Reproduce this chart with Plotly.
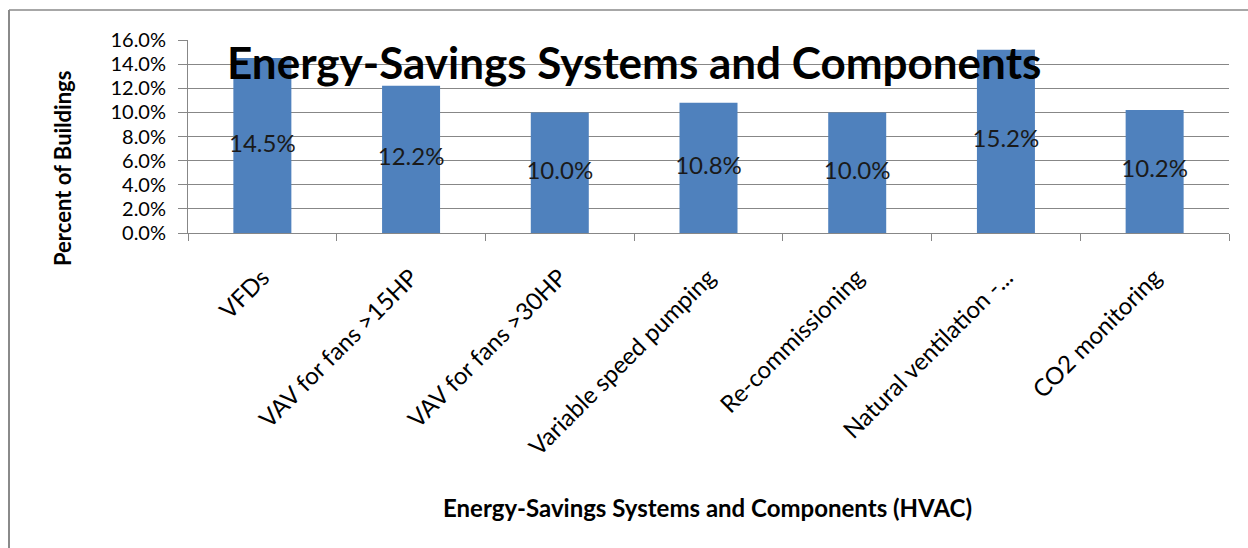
import plotly.graph_objects as go

categories = ["VFDs", "VAV for fans >15HP", "VAV for fans >30HP", "Variable speed pumping",
              "Re-commissioning", "Natural ventilation -...", "CO2 monitoring"]
values = [0.145, 0.122, 0.100, 0.108, 0.100, 0.152, 0.102]
y_ticks = [0.0, 0.02, 0.04, 0.06, 0.08, 0.10, 0.12, 0.14, 0.16]
y_tick_labels = ["0.0%", "2.0%", "4.0%", "6.0%", "8.0%", "10.0%", "12.0%", "14.0%", "16.0%"]
title_text = "Energy-Savings Systems and Components"
x_title = "Energy-Savings Systems and Components (HVAC)"
y_title = "Percent of Buildings"

FONT = "Lato"
W, H = 1248, 548
L, R, T, B = 188, 19, 40, 315
pw, ph = W - L - R, H - T - B

def px(x):
    return (x - L) / pw

def py(y):
    return (H - B - y) / ph

fig = go.Figure()
fig.add_trace(go.Bar(x=categories, y=values, marker=dict(color="#4F81BD", line=dict(width=0)),
                     hoverinfo="skip"))
fig.add_trace(go.Scatter(x=categories, y=[v / 2 for v in values], mode="text",
                         text=[f"{v*100:.1f}%" for v in values],
                         textfont=dict(family=FONT, size=24, color="#1a1a1a"),
                         textposition="middle center", hoverinfo="skip", cliponaxis=False))

fig.update_layout(
    width=W, height=H,
    margin=dict(l=L, r=R, t=T, b=B, autoexpand=False),
    paper_bgcolor="white", plot_bgcolor="white",
    showlegend=False, bargap=0.61,
    font=dict(family=FONT, color="#000000"),
)
fig.update_xaxes(
    type="category", tickangle=-45, tickfont=dict(family=FONT, size=24, color="#000000"),
    showline=True, linecolor="#878787", linewidth=1,
    ticks="outside", ticklen=7, tickcolor="#878787", tickson="boundaries",
    showgrid=False, ticklabelstandoff=20,
)
fig.update_yaxes(
    range=[0, 0.16], tickvals=y_ticks, ticktext=y_tick_labels,
    tickfont=dict(family=FONT, size=20, color="#000000"),
    showline=True, linecolor="#878787", linewidth=1,
    ticks="outside", ticklen=9, tickcolor="#878787",
    showgrid=True, gridcolor="#878787", gridwidth=1, zeroline=False,
    ticklabelstandoff=8,
)

fig.add_annotation(text=f"<b>{title_text}</b>", xref="paper", yref="paper",
                   x=px(634), y=py(62), xanchor="center", yanchor="middle",
                   showarrow=False, font=dict(family=FONT, size=44, color="#000000"))
fig.add_annotation(text=f"<b>{x_title}</b>", xref="paper", yref="paper",
                   x=px(707), y=py(508), xanchor="center", yanchor="middle",
                   showarrow=False, font=dict(family=FONT, size=24, color="#000000"))
fig.add_annotation(text=f"<b>{y_title}</b>", xref="paper", yref="paper",
                   x=px(62), y=py(169), xanchor="center", yanchor="middle", textangle=-90,
                   showarrow=False, font=dict(family=FONT, size=22, color="#000000"))

fig.add_shape(type="line", xref="paper", yref="paper", x0=px(9), x1=px(9), y0=py(10), y1=py(548),
              line=dict(color="#8a8a8a", width=2))
fig.add_shape(type="line", xref="paper", yref="paper", x0=px(9), x1=px(1248), y0=py(10), y1=py(10),
              line=dict(color="#8a8a8a", width=1.5))

fig.write_html("out.html")
